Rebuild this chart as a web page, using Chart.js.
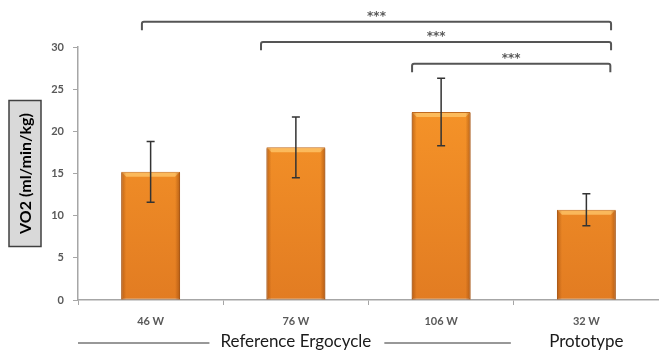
<!DOCTYPE html>
<html lang="en">
<head>
  <meta charset="UTF-8">
  <title>VO2</title>
  <script src="https://cdn.jsdelivr.net/npm/chart.js"></script>
  <style>
    html, body { margin: 0; padding: 0; background: #fff; }
    #wrap { width: 659px; height: 350px; }
  </style>
</head>
<body>
  <div id="wrap"><canvas id="grafico"></canvas></div>

<script>
  // data
  const categorias = ['46 W', '76 W', '106 W', '32 W'];
  const vo2 = [15.2, 18.1, 22.3, 10.7];
  const desvio = [3.6, 3.6, 4.0, 1.9];
  const yTicks = [0, 5, 10, 15, 20, 25, 30];
  const comparacoesDe = [0, 1, 2];
  const comparacoesAte = [3, 3, 3];
  const comparacoesTexto = ['***', '***', '***'];
  const grupos = ['Reference Ergocycle', 'Prototype'];
  const gruposCentro = [1, 3];

  const eixoTitulo = 'VO2 (ml/min/kg)';

  // error bars + bevel on the bars
  const barrasExtras = {
    id: 'barrasExtras',
    afterDatasetsDraw(chart) {
      const ctx = chart.ctx;
      const y = chart.scales.y;
      const meta = chart.getDatasetMeta(0);
      meta.data.forEach((bar, i) => {
        const left = bar.x - bar.width / 2;
        const right = bar.x + bar.width / 2;
        ctx.save();
        // top highlight
        ctx.fillStyle = 'rgba(255, 200, 110, 0.75)';
        ctx.beginPath();
        ctx.moveTo(left + 1, bar.y + 1);
        ctx.lineTo(right - 1, bar.y + 1);
        ctx.lineTo(right - 5, bar.y + 5);
        ctx.lineTo(left + 5, bar.y + 5);
        ctx.closePath();
        ctx.fill();
        // dark side edges
        let g = ctx.createLinearGradient(left, 0, left + 5, 0);
        g.addColorStop(0, 'rgba(150, 70, 10, 0.55)');
        g.addColorStop(1, 'rgba(150, 70, 10, 0)');
        ctx.fillStyle = g;
        ctx.fillRect(left, bar.y + 1, 5, bar.base - bar.y - 1);
        g = ctx.createLinearGradient(right - 5, 0, right, 0);
        g.addColorStop(0, 'rgba(150, 70, 10, 0)');
        g.addColorStop(1, 'rgba(150, 70, 10, 0.6)');
        ctx.fillStyle = g;
        ctx.fillRect(right - 5, bar.y + 1, 5, bar.base - bar.y - 1);
        ctx.restore();

        // error bar
        const top = y.getPixelForValue(vo2[i] + desvio[i]);
        const bot = y.getPixelForValue(vo2[i] - desvio[i]);
        ctx.save();
        ctx.strokeStyle = '#333333';
        ctx.lineWidth = 1.5;
        ctx.beginPath();
        ctx.moveTo(bar.x, top);
        ctx.lineTo(bar.x, bot);
        ctx.moveTo(bar.x - 4, top);
        ctx.lineTo(bar.x + 4, top);
        ctx.moveTo(bar.x - 4, bot);
        ctx.lineTo(bar.x + 4, bot);
        ctx.stroke();
        ctx.restore();
      });
    }
  };

  // significance brackets, group labels and boxed axis title
  const anotacoes = {
    id: 'anotacoes',
    afterDraw(chart) {
      const ctx = chart.ctx;
      const x = chart.scales.x;
      const y = chart.scales.y;
      const area = chart.chartArea;

      const niveis = [33.0, 30.6, 28.0];
      const offEsq = [-0.06, -0.24, -0.2];
      const offDir = [0.17, 0.17, 0.165];
      comparacoesDe.forEach((de, i) => {
        const x1 = x.getPixelForValue(de + offEsq[i]);
        const x2 = x.getPixelForValue(comparacoesAte[i] + offDir[i]);
        const yy = y.getPixelForValue(niveis[i]);
        const perna = y.getPixelForValue(niveis[i] - 1.0);
        ctx.save();
        ctx.strokeStyle = '#555555';
        ctx.lineWidth = 2;
        ctx.lineJoin = 'round';
        ctx.beginPath();
        ctx.moveTo(x1, perna);
        ctx.lineTo(x1, yy + 2);
        ctx.quadraticCurveTo(x1, yy, x1 + 2, yy);
        ctx.lineTo(x2 - 2, yy);
        ctx.quadraticCurveTo(x2, yy, x2, yy + 2);
        ctx.lineTo(x2, perna);
        ctx.stroke();
        ctx.fillStyle = '#5a5a5a';
        ctx.font = 'bold 12px "DejaVu Sans"';
        ctx.textAlign = 'center';
        ctx.textBaseline = 'middle';
        ctx.fillText(comparacoesTexto[i], (x1 + x2) / 2, yy - 5);
        ctx.restore();
      });

      // group labels under the axis
      const yg = area.bottom + 42;
      ctx.save();
      ctx.font = '17px Lato';
      ctx.fillStyle = '#1a1a1a';
      ctx.textAlign = 'center';
      ctx.textBaseline = 'middle';
      grupos.forEach((txt, i) => {
        const cx = x.getPixelForValue(gruposCentro[i]);
        ctx.fillText(txt, cx, yg);
        if (i === 0) {
          const w = ctx.measureText(txt).width;
          ctx.strokeStyle = '#333333';
          ctx.lineWidth = 1.2;
          ctx.beginPath();
          ctx.moveTo(area.left, yg + 1);
          ctx.lineTo(cx - w / 2 - 11, yg + 1);
          ctx.moveTo(cx + w / 2 + 13, yg + 1);
          ctx.lineTo(x.getPixelForValue(2.48), yg + 1);
          ctx.stroke();
        }
      });
      ctx.restore();

      // boxed y axis title
      const cy = (area.top + area.bottom) / 2;
      const cxT = area.left - 53;
      ctx.save();
      ctx.translate(cxT, cy);
      ctx.rotate(-Math.PI / 2);
      ctx.fillStyle = '#d9d9d9';
      ctx.fillRect(-73, -16, 146, 32);
      ctx.strokeStyle = '#404040';
      ctx.lineWidth = 1.5;
      ctx.strokeRect(-73, -16, 146, 32);
      ctx.fillStyle = '#000000';
      ctx.font = 'bold 16px Lato';
      ctx.textAlign = 'center';
      ctx.textBaseline = 'middle';
      ctx.fillText(eixoTitulo, 0, 1);
      ctx.restore();
    }
  };

  const ctx = document.getElementById('grafico').getContext('2d');
  const grafico = new Chart(ctx, {
    type: 'bar',
    data: {
      labels: categorias,
      datasets: [{
        data: vo2,
        backgroundColor: (c) => {
          const area = c.chart.chartArea;
          if (!area) return '#f08a24';
          const g = c.chart.ctx.createLinearGradient(0, area.top, 0, area.bottom);
          g.addColorStop(0, '#fb9a2a');
          g.addColorStop(1, '#e27c22');
          return g;
        },
        borderColor: '#c06a1f',
        borderWidth: 1,
        borderSkipped: false,
        categoryPercentage: 1.0,
        barPercentage: 0.405
      }]
    },
    options: {
      responsive: true,
      maintainAspectRatio: false,
      animation: false,
      layout: { padding: { top: 47, right: 0, bottom: 22, left: 0 } },
      plugins: {
        legend: { display: false },
        tooltip: { enabled: false }
      },
      scales: {
        x: {
          afterFit: (s) => { s.height = 28; },
          border: { color: '#a6a6a6', width: 1.5 },
          grid: { display: true, drawOnChartArea: false, tickLength: 5, color: '#a6a6a6', offset: true },
          ticks: {
            color: '#595959',
            padding: 10,
            font: { family: 'Lato', size: 11, weight: 'bold' }
          }
        },
        y: {
          min: 0,
          max: 30,
          afterFit: (s) => { s.width = 78; },
          afterBuildTicks: (s) => { s.ticks = yTicks.map(v => ({ value: v })); },
          border: { color: '#a6a6a6', width: 1.5 },
          grid: { display: true, drawOnChartArea: false, tickLength: 5, color: '#a6a6a6' },
          ticks: {
            color: '#595959',
            padding: 9,
            font: { family: 'Lato', size: 11, weight: 'bold' }
          }
        }
      }
    },
    plugins: [barrasExtras, anotacoes]
  });
</script>
</body>
</html>
